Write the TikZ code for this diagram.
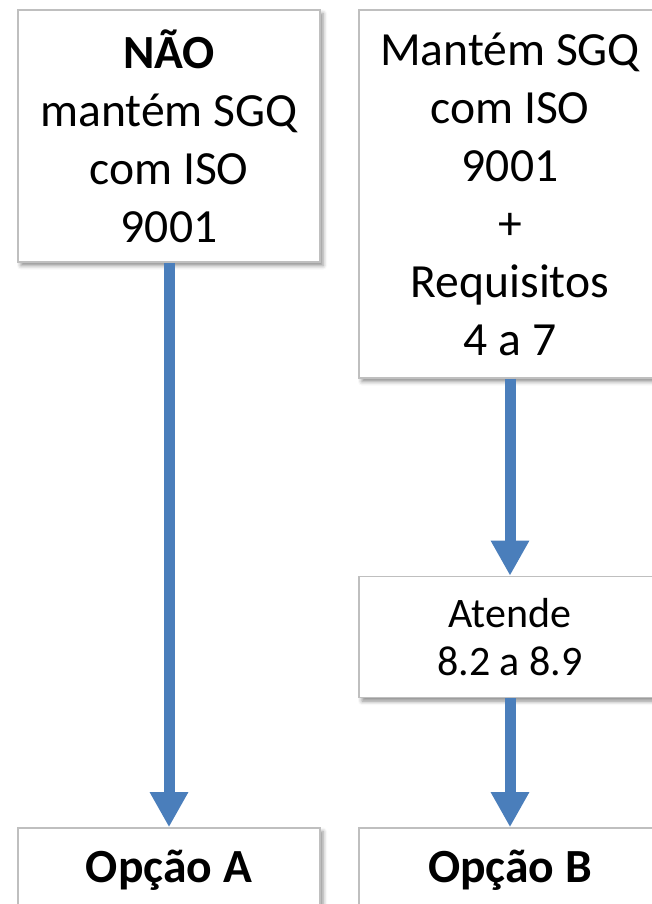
\documentclass[tikz,border=0pt]{standalone}
\usepackage{fontspec}
\setmainfont{Carlito}
\usetikzlibrary{arrows.meta,shadows.blur}
\definecolor{flowblue}{HTML}{4A7EBB}
\definecolor{boxline}{HTML}{BFBFBF}
\tikzset{
  box/.style={draw=boxline, line width=0.8pt, fill=white, align=center,
    minimum width=151pt, inner sep=0pt,
    blur shadow={shadow xshift=1.5pt, shadow yshift=-1.8pt, shadow blur radius=2pt, shadow opacity=45}},
  bigtext/.style={font=\fontsize{23.8pt}{29pt}\selectfont},
  smalltext/.style={font=\fontsize{21pt}{24pt}\selectfont},
  flow/.style={draw=flowblue, line width=5.5pt,
    -{Triangle[width=18pt,length=17.5pt,fill=flowblue]}}
}
\begin{document}
\begin{tikzpicture}[x=0.5pt,y=-0.5pt]
\useasboundingbox (0,0) rectangle (652,904);
\clip (0,0) rectangle (652,904);
\node[box, bigtext, minimum height=126pt] (nao) at (169,136)
  {\textbf{NÃO}\\mantém SGQ\\com ISO\\9001};
\node[box, bigtext, minimum height=184pt] (sim) at (510,194)
  {Mantém SGQ\\com ISO\\9001\\+\\Requisitos\\4 a 7};
\node[box, smalltext, minimum height=60.5pt] (atende) at (510,637)
  {Atende\\8.2 a 8.9};
\node[box, bigtext, minimum height=42pt] (opA) at (169,870) {\textbf{Opção A}};
\node[box, bigtext, minimum height=42pt] (opB) at (510,870) {\textbf{Opção B}};
\draw[flow] (nao.south) -- (opA.north);
\draw[flow] (sim.south) -- (atende.north);
\draw[flow] (atende.south) -- (opB.north);
\end{tikzpicture}
\end{document}
